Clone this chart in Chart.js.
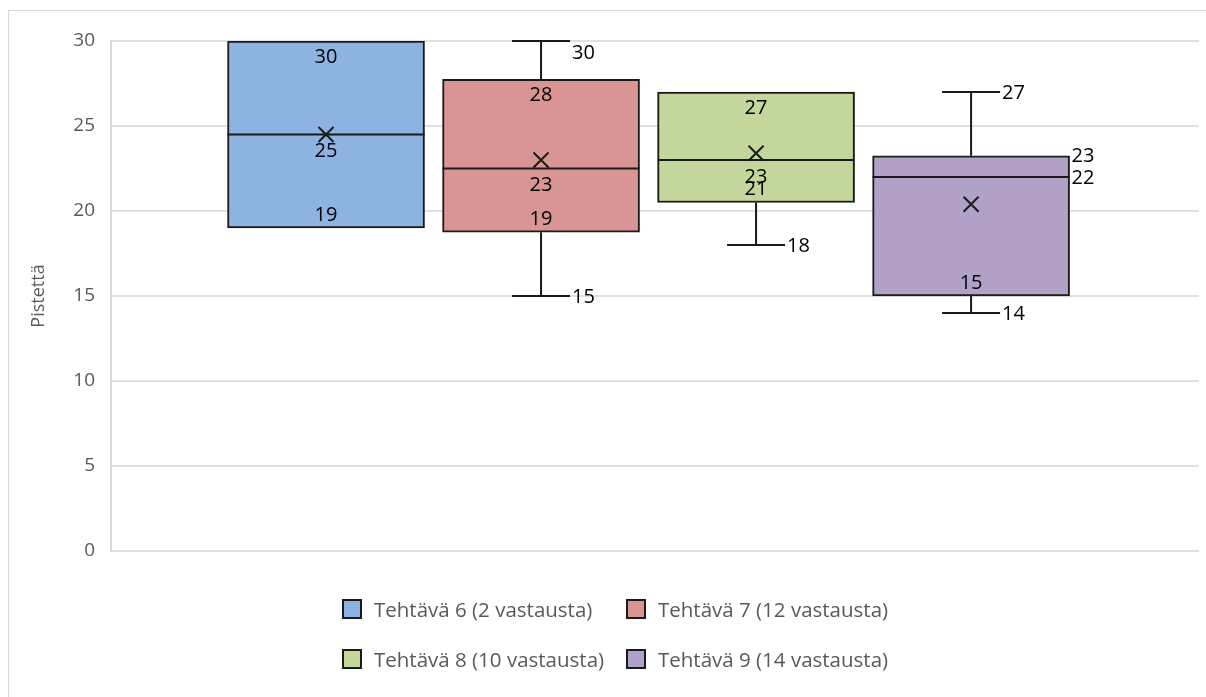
<!DOCTYPE html>
<html>
<head>
<meta charset="utf-8">
<title>Pisteet tehtävittäin</title>
<script src="https://cdn.jsdelivr.net/npm/chart.js@4.4.0/dist/chart.umd.min.js"></script>
<style>
  html, body { margin: 0; padding: 0; background: #fff; }
  #wrap { position: relative; width: 1206px; height: 697px; overflow: hidden; font-family: "Open Sans", "Liberation Sans", sans-serif; }
  #frame { position: absolute; left: 8px; top: 10px; width: 1198px; height: 720px; border-left: 1px solid #d9d9d9; border-top: 1px solid #d9d9d9; }
  #chart { position: absolute; left: 0; top: 0; }
  #legend { position: absolute; left: 342px; top: 595px; display: grid; grid-template-columns: 284px 284px; row-gap: 22px; }
  .item { display: flex; align-items: center; height: 28px; color: #595959; font-size: 20.5px; white-space: nowrap; }
  .swatch { width: 16px; height: 16px; border: 2px solid #1a1a1a; margin-right: 12px; flex: none; }
</style>
</head>
<body>
<div id="wrap">
  <div id="frame"></div>
  <canvas id="chart" width="1206" height="697"></canvas>
  <div id="legend"></div>
</div>
<script>
// series and their five-number summaries
const seriesNames = [
  "Tehtävä 6 (2 vastausta)",
  "Tehtävä 7 (12 vastausta)",
  "Tehtävä 8 (10 vastausta)",
  "Tehtävä 9 (14 vastausta)"
];
const minValues = [19, 15, 18, 14];
const q1Values = [19, 18.75, 20.5, 15];
const medianValues = [24.5, 22.5, 23, 22];
const q3Values = [30, 27.75, 27, 23.25];
const maxValues = [30, 30, 27, 27];
const meanValues = [24.5, 23, 23.4, 20.4];

const yMin = 0;
const yMax = 30;
const yStep = 5;

const fillColors = ["#8db3e2", "#d99594", "#c3d69b", "#b2a1c7"];
const boxBorder = "#1a1a1a";
const fontFamily = "'Open Sans', 'Liberation Sans', sans-serif";

// whiskers, median, mean cross and value labels on top of the bars
const boxExtras = {
  id: "boxExtras",
  afterDatasetsDraw(chart) {
    const ctx = chart.ctx;
    const y = chart.scales.y;
    const area = chart.chartArea;
    ctx.save();
    ctx.strokeStyle = boxBorder;
    ctx.lineWidth = 2;
    ctx.fillStyle = "#000";
    ctx.font = "20px " + fontFamily;
    ctx.textBaseline = "middle";

    chart.data.datasets.forEach((ds, i) => {
      const bar = chart.getDatasetMeta(i).data[0];
      const cx = bar.x;
      const half = bar.width / 2;
      const capHalf = 29;
      const pMin = y.getPixelForValue(minValues[i]);
      const pQ1 = y.getPixelForValue(q1Values[i]);
      const pMed = y.getPixelForValue(medianValues[i]);
      const pQ3 = y.getPixelForValue(q3Values[i]);
      const pMax = y.getPixelForValue(maxValues[i]);
      const pMean = y.getPixelForValue(meanValues[i]);

      // whiskers
      ctx.beginPath();
      if (maxValues[i] > q3Values[i]) {
        ctx.moveTo(cx, pQ3); ctx.lineTo(cx, pMax);
        ctx.moveTo(cx - capHalf, pMax); ctx.lineTo(cx + capHalf, pMax);
      }
      if (minValues[i] < q1Values[i]) {
        ctx.moveTo(cx, pQ1); ctx.lineTo(cx, pMin);
        ctx.moveTo(cx - capHalf, pMin); ctx.lineTo(cx + capHalf, pMin);
      }
      // median
      ctx.moveTo(cx - half, pMed); ctx.lineTo(cx + half, pMed);
      // mean cross
      const m = 7.5;
      ctx.moveTo(cx - m, pMean - m); ctx.lineTo(cx + m, pMean + m);
      ctx.moveTo(cx - m, pMean + m); ctx.lineTo(cx + m, pMean - m);
      ctx.stroke();

      const fmt = v => String(Math.round(v));
      const sideLabel = (v, p, x) => {
        ctx.textAlign = "left";
        ctx.fillText(fmt(v), x, Math.max(p + 1, area.top + 12));
      };

      // whisker end labels to the right of the caps
      if (maxValues[i] > q3Values[i]) sideLabel(maxValues[i], pMax, cx + capHalf + 2);
      if (minValues[i] < q1Values[i]) sideLabel(minValues[i], pMin, cx + capHalf + 2);

      if (ds.labelsOutside) {
        sideLabel(q3Values[i], pQ3, cx + half + 2);
        sideLabel(medianValues[i], pMed, cx + half + 2);
      } else {
        ctx.textAlign = "center";
        ctx.fillText(fmt(q3Values[i]), cx, pQ3 + 16);
        ctx.fillText(fmt(medianValues[i]), cx, pMed + 17);
      }
      ctx.textAlign = "center";
      ctx.fillText(fmt(q1Values[i]), cx, pQ1 - 13);
    });
    ctx.restore();
  }
};

const datasets = seriesNames.map((name, i) => ({
  label: name,
  data: [{ x: i + 1, y: [q1Values[i], q3Values[i]] }],
  backgroundColor: fillColors[i],
  borderColor: boxBorder,
  borderWidth: 2,
  borderSkipped: false,
  barThickness: 197,
  grouped: false,
  labelsOutside: i === 3
}));

new Chart(document.getElementById("chart"), {
  type: "bar",
  data: { datasets: datasets },
  options: {
    responsive: false,
    animation: false,
    layout: { padding: { top: 41, right: 7, bottom: 146, left: 0 } },
    plugins: {
      legend: { display: false },
      tooltip: { enabled: false }
    },
    scales: {
      x: {
        type: "linear",
        min: 0,
        max: 5.06,
        offset: false,
        display: false
      },
      y: {
        min: yMin,
        max: yMax,
        ticks: {
          stepSize: yStep,
          color: "#595959",
          font: { size: 19, family: fontFamily },
          padding: 16
        },
        grid: { color: "#e0e0e0", lineWidth: 2, drawTicks: false },
        border: { display: true, color: "#d9d9d9", width: 2 },
        title: {
          display: true,
          text: "Pistettä",
          color: "#595959",
          font: { size: 18, family: fontFamily },
          padding: { top: 28, bottom: 0 }
        },
        afterFit(scale) { scale.width = 111; }
      }
    }
  },
  plugins: [boxExtras]
});

// legend in two rows of two
const legend = document.getElementById("legend");
seriesNames.forEach((name, i) => {
  const item = document.createElement("div");
  item.className = "item";
  const sw = document.createElement("span");
  sw.className = "swatch";
  sw.style.background = fillColors[i];
  item.appendChild(sw);
  item.appendChild(document.createTextNode(name));
  legend.appendChild(item);
});
</script>
</body>
</html>
